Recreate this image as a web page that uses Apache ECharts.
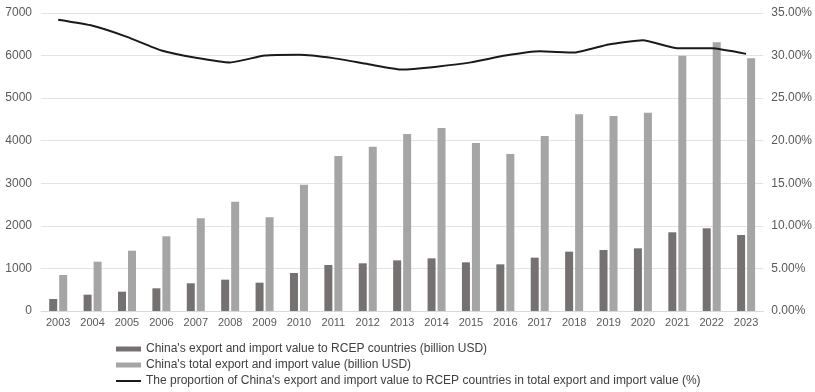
<!DOCTYPE html>
<html>
<head>
<meta charset="utf-8">
<script src="https://cdn.jsdelivr.net/npm/echarts@6/dist/echarts.min.js"></script>
<style>
  html, body { margin: 0; padding: 0; background: #ffffff; }
  #chart { width: 815px; height: 392px; }
</style>
</head>
<body>
<div id="chart"></div>
<script>
// Years on the category axis
const years = ['2003','2004','2005','2006','2007','2008','2009','2010','2011','2012','2013',
               '2014','2015','2016','2017','2018','2019','2020','2021','2022','2023'];

// China's trade with RCEP countries (billion USD)
const rcepTrade = [282, 383, 454, 533, 651, 736, 665, 893, 1081, 1120, 1190,
                   1237, 1143, 1096, 1253, 1394, 1433, 1472, 1849, 1943, 1785];

// China's total trade (billion USD)
const totalTrade = [846, 1158, 1417, 1755, 2178, 2568, 2201, 2967, 3641, 3860, 4158,
                    4299, 3946, 3688, 4111, 4620, 4580, 4658, 5998, 6312, 5936];

// RCEP share of total trade (%)
const rcepShare = [34.2, 33.5, 32.2, 30.6, 29.75, 29.2, 30.0, 30.1, 29.7, 29.0, 28.35,
                   28.7, 29.2, 30.0, 30.5, 30.35, 31.3, 31.8, 30.85, 30.85, 30.2];

const seriesNames = [
  "China's export and import value to RCEP countries (billion USD)",
  "China's total export and import value (billion USD)",
  "The proportion of China's export and import value to RCEP countries in total export and import value (%)"
];

const font = '"Liberation Sans", Arial, sans-serif';
const chart = echarts.init(document.getElementById('chart'), null, { renderer: 'canvas' });

chart.setOption({
  animation: false,
  backgroundColor: '#ffffff',
  textStyle: { fontFamily: font },
  grid: { left: 41, right: 51, top: 13, bottom: 81 },
  legend: {
    orient: 'vertical',
    left: 110,
    top: 338,
    itemWidth: 25,
    itemHeight: 5,
    itemGap: 4,
    textStyle: { fontFamily: font, fontSize: 12, color: '#404040' },
    data: [
      { name: seriesNames[0], icon: 'rect' },
      { name: seriesNames[1], icon: 'rect' },
      // line entry: keep the stroke, hide the marker dot
      { name: seriesNames[2], itemStyle: { opacity: 0 } }
    ]
  },
  xAxis: {
    type: 'category',
    data: years,
    axisLine: { show: true, lineStyle: { color: '#d9d9d9', width: 1 } },
    axisTick: { show: false },
    axisLabel: { color: '#595959', fontSize: 11, margin: 6, fontFamily: font }
  },
  yAxis: [
    {
      type: 'value',
      min: 0, max: 7000, interval: 1000,
      axisLine: { show: false },
      axisTick: { show: false },
      splitLine: { lineStyle: { color: '#e3e3e3', width: 1 } },
      axisLabel: {
        color: '#595959', fontSize: 12, margin: 9, fontFamily: font,
        formatter: v => String(v)
      }
    },
    {
      type: 'value',
      min: 0, max: 35, interval: 5,
      axisLine: { show: false },
      axisTick: { show: false },
      splitLine: { show: false },
      axisLabel: {
        color: '#595959', fontSize: 12, margin: 8, fontFamily: font,
        formatter: v => v.toFixed(2) + '%'
      }
    }
  ],
  series: [
    {
      name: seriesNames[0],
      type: 'bar',
      data: rcepTrade,
      barWidth: 8,
      barGap: '25%',
      itemStyle: { color: '#767171' }
    },
    {
      name: seriesNames[1],
      type: 'bar',
      data: totalTrade,
      barWidth: 8,
      itemStyle: { color: '#a5a5a5' }
    },
    {
      name: seriesNames[2],
      type: 'line',
      yAxisIndex: 1,
      data: rcepShare,
      symbol: 'none',
      smooth: 0.15,
      lineStyle: { color: '#1a1a1a', width: 2 },
      itemStyle: { color: '#1a1a1a' }
    }
  ]
});
</script>
</body>
</html>
